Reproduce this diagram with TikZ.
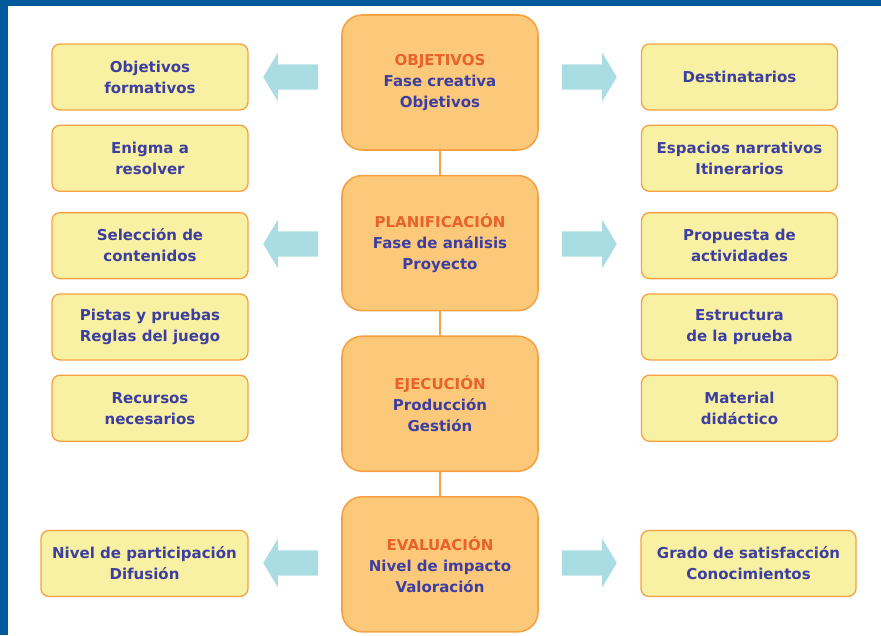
\documentclass[tikz,border=0pt]{standalone}
\usepackage{fontspec}
\setmainfont{DejaVu Sans}
\usepackage{tikz}
\usetikzlibrary{positioning,shapes.arrows}
\definecolor{marcoazul}{RGB}{0,90,156}
\definecolor{faseborde}{RGB}{247,162,66}
\definecolor{fasefondo}{RGB}{252,201,122}
\definecolor{tareafondo}{RGB}{248,240,162}
\definecolor{textoazul}{RGB}{60,62,160}
\definecolor{titulorojo}{RGB}{232,98,42}
\definecolor{flechacian}{RGB}{170,221,227}

\begin{document}
\begin{tikzpicture}[
    x=1pt, y=1pt,
    every node/.style={align=center, text=textoazul, font=\fontsize{15}{21}\selectfont\bfseries},
    fase/.style={draw=faseborde, fill=fasefondo, line width=1.6pt, rounded corners=20pt,
        minimum width=196pt, minimum height=135pt},
    tarea/.style={draw=faseborde, fill=tareafondo, line width=1.3pt, rounded corners=8pt,
        minimum width=196pt, minimum height=66pt},
    flecha/.style={single arrow, fill=flechacian, draw=none, inner xsep=0pt, inner ysep=12.5pt,
        minimum height=55pt, single arrow head extend=11.5pt, single arrow tip angle=118, anchor=tip},
    enlace/.style={draw=faseborde, line width=1.4pt},
]
\useasboundingbox (0,0) rectangle (881,-635);
% marco
\fill[marcoazul] (0,0) rectangle (881,-6);
\fill[marcoazul] (0,0) rectangle (8,-635);

% fases
\node[fase] (obj) at (440,-82.5) {\textcolor{titulorojo}{OBJETIVOS}\\Fase creativa\\Objetivos};
\node[fase, below=24pt of obj] (plan) {\textcolor{titulorojo}{PLANIFICACIÓN}\\Fase de análisis\\Proyecto};
\node[fase, below=24pt of plan] (ejec) {\textcolor{titulorojo}{EJECUCIÓN}\\Producción\\Gestión};
\node[fase, below=24pt of ejec] (eval) {\textcolor{titulorojo}{EVALUACIÓN}\\Nivel de impacto\\Valoración};
\draw[enlace] (obj.south) -- (plan.north);
\draw[enlace] (plan.south) -- (ejec.north);
\draw[enlace] (ejec.south) -- (eval.north);

% columna izquierda
\node[tarea] (formativos) at (150,-77) {Objetivos\\formativos};
\node[tarea, below=14pt of formativos] (enigma) {Enigma a\\resolver};
\node[tarea, below=20pt of enigma] (seleccion) {Selección de\\contenidos};
\node[tarea, below=14pt of seleccion] (pistas) {Pistas y pruebas\\Reglas del juego};
\node[tarea, below=14pt of pistas] (recursos) {Recursos\\necesarios};
\node[tarea, minimum width=207pt] (participacion) at (144.5,-563.5) {Nivel de participación\\Difusión};

% columna derecha
\node[tarea] (destinatarios) at (739.5,-77) {Destinatarios};
\node[tarea, below=14pt of destinatarios] (espacios) {Espacios narrativos\\Itinerarios};
\node[tarea, below=20pt of espacios] (propuesta) {Propuesta de\\actividades};
\node[tarea, below=14pt of propuesta] (estructura) {Estructura\\de la prueba};
\node[tarea, below=14pt of estructura] (material) {Material\\didáctico};
\node[tarea, minimum width=215pt] (satisfaccion) at (748.5,-563.5) {Grado de satisfacción\\Conocimientos};

% flechas
\node[flecha, shape border rotate=180] (fl1) at (263,-77) {};
\node[flecha, shape border rotate=180] (fl2) at (263,-244) {};
\node[flecha, shape border rotate=180] (fl3) at (263,-563) {};
\node[flecha] (fr1) at (617,-77) {};
\node[flecha] (fr2) at (617,-244) {};
\node[flecha] (fr3) at (617,-563) {};
\end{tikzpicture}
\end{document}
